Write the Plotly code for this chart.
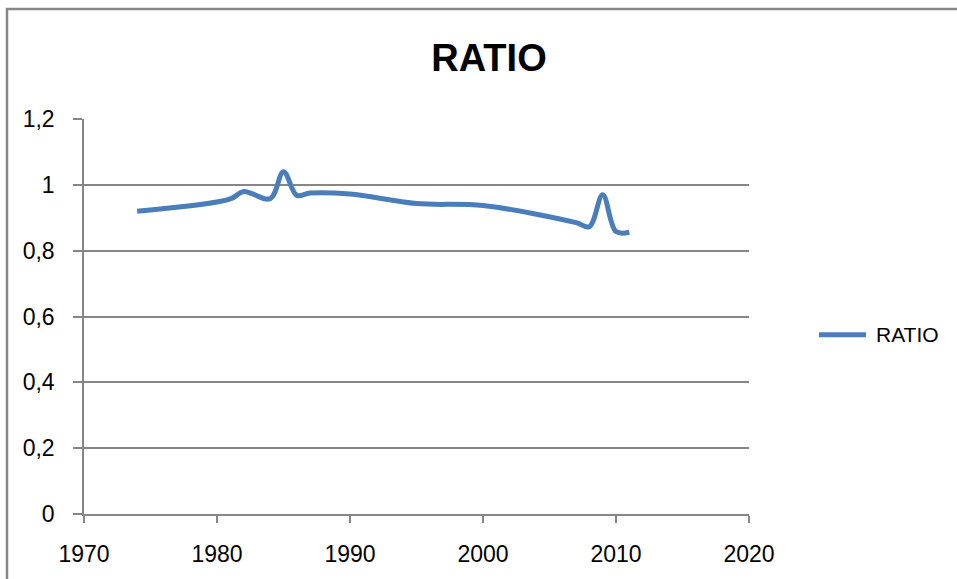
import plotly.graph_objects as go

# Yearly ratio series
years = [1974, 1981, 1982, 1984, 1985, 1986, 1987, 1990, 1995, 2000, 2007, 2008, 2009, 2010, 2011]
ratio = [0.920, 0.957, 0.980, 0.958, 1.040, 0.968, 0.975, 0.972, 0.943, 0.937, 0.885, 0.873, 0.970, 0.858, 0.856]

x_ticks = [1970, 1980, 1990, 2000, 2010, 2020]
x_tick_labels = ["1970", "1980", "1990", "2000", "2010", "2020"]
y_ticks = [0, 0.2, 0.4, 0.6, 0.8, 1.0, 1.2]
y_tick_labels = ["0", "0,2", "0,4", "0,6", "0,8", "1", "1,2"]

W, H = 957, 579
L, R, T, B = 84, 208, 119, 61
PW, PH = W - L - R, H - T - B

def px_to_paper_x(px):
    return (px - L) / PW

def px_to_paper_y(py):
    return (H - B - py) / PH

LINE_COLOR = "#4A7EBB"
GRID = "#868686"
FONT = "Liberation Sans, Arial, sans-serif"

fig = go.Figure()
fig.add_trace(go.Scatter(
    x=years, y=ratio, mode="lines", name="RATIO",
    line=dict(color=LINE_COLOR, width=5, shape="spline", smoothing=1.0),
    showlegend=False,
))

fig.update_layout(
    width=W, height=H,
    margin=dict(l=L, r=R, t=T, b=B),
    paper_bgcolor="white", plot_bgcolor="white",
    title=dict(text="<b>RATIO</b>", x=489 / W, xanchor="center",
               y=1 - 58 / H, yanchor="middle", yref="container",
               font=dict(family=FONT, size=38, color="black")),
    xaxis=dict(range=[1970, 2020], tickvals=x_ticks, ticktext=x_tick_labels,
               showgrid=False, zeroline=False, showline=True, linecolor=GRID, linewidth=1.5,
               ticks="outside", ticklen=7, tickcolor=GRID, tickwidth=1.5,
               ticklabelstandoff=12,
               tickfont=dict(family=FONT, size=23, color="black")),
    yaxis=dict(range=[0, 1.2], tickvals=y_ticks, ticktext=y_tick_labels,
               showgrid=True, gridcolor=GRID, gridwidth=1.5, zeroline=False,
               showline=True, linecolor=GRID, linewidth=1.5,
               ticks="outside", ticklen=9, tickcolor=GRID, tickwidth=1.5,
               ticklabelstandoff=14,
               tickfont=dict(family=FONT, size=23, color="black")),
)

# Outer chart frame
fig.add_shape(type="rect", xref="paper", yref="paper",
              x0=px_to_paper_x(7), x1=px_to_paper_x(1010),
              y0=px_to_paper_y(640), y1=px_to_paper_y(8),
              line=dict(color=GRID, width=2.5), fillcolor="rgba(0,0,0,0)", layer="below")

# Legend: line sample and label
fig.add_shape(type="line", xref="paper", yref="paper",
              x0=px_to_paper_x(819), x1=px_to_paper_x(866),
              y0=px_to_paper_y(337), y1=px_to_paper_y(337),
              line=dict(color=LINE_COLOR, width=5))
fig.add_annotation(xref="paper", yref="paper", x=px_to_paper_x(874), y=px_to_paper_y(337),
                   text="RATIO", showarrow=False, xanchor="left", yanchor="middle",
                   font=dict(family=FONT, size=21, color="black"))

fig.write_html("out.html")
